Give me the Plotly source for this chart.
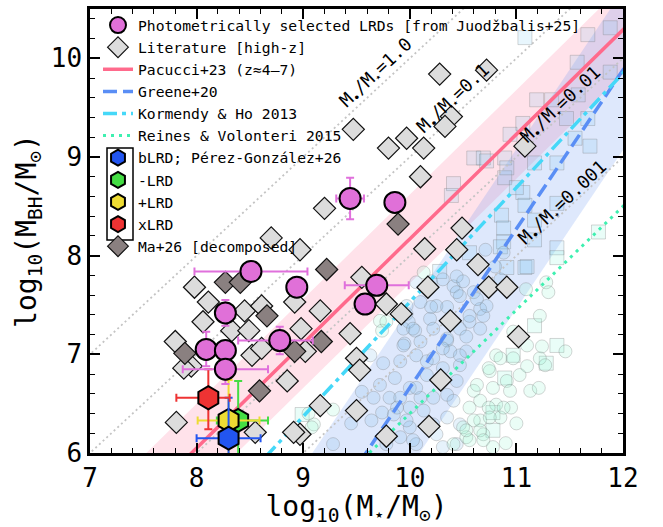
import numpy as np
import plotly.graph_objects as go

# ---------------- data ----------------
# Photometrically selected LRDs (Juodzbalis+25)
lrd_x = [9.44, 9.86, 8.51, 8.94, 8.27, 8.78, 8.09, 8.27, 8.27, 9.69, 9.58]
lrd_y = [8.58, 8.54, 7.84, 7.68, 7.42, 7.14, 7.05, 7.04, 6.85, 7.70, 7.51]
lrd_xerr_lo = [0.13, 0.0, 0.53, 0.0, 0.0, 0.39, 0.0, 0.0, 0.40, 0.30, 0.0]
lrd_xerr_hi = [0.13, 0.0, 0.53, 0.0, 0.0, 0.31, 0.0, 0.0, 0.40, 0.30, 0.0]
lrd_yerr_lo = [0.21, 0.0, 0.0, 0.0, 0.13, 0.14, 0.17, 0.0, 0.15, 0.0, 0.0]
lrd_yerr_hi = [0.21, 0.0, 0.0, 0.0, 0.13, 0.14, 0.18, 0.0, 0.15, 0.0, 0.0]

# Literature [high-z]
lit_x = [10.28, 10.72, 9.47, 9.97, 9.80, 10.13, 10.39, 10.33, 11.08, 10.10,
         9.20, 10.49, 8.97, 8.70, 10.14, 10.44, 10.64, 9.55, 10.17, 9.78,
         9.92, 10.74, 10.91, 10.38, 9.16, 9.44, 11.02, 10.29, 10.18, 9.78,
         9.50, 9.53, 9.16, 9.50, 8.97, 7.98, 8.11, 8.45, 8.61, 8.06,
         8.33, 8.49, 7.80, 7.95, 7.88, 8.52, 8.61, 8.92, 8.98, 9.02,
         8.85, 7.81, 8.55, 8.91]
lit_y = [9.84, 9.88, 9.28, 9.19, 9.09, 9.09, 9.41, 9.31, 9.11, 8.80,
         8.48, 8.28, 8.06, 8.18, 8.07, 8.06, 7.91, 7.78, 7.68, 7.51,
         7.41, 7.68, 7.68, 7.34, 7.44, 7.21, 7.18, 6.74, 6.27, 6.17,
         6.96, 6.84, 6.48, 6.43, 6.19, 7.68, 7.53, 7.44, 7.49, 7.33,
         7.24, 7.24, 7.13, 6.88, 6.86, 6.99, 7.06, 7.53, 7.26, 7.03,
         6.73, 6.31, 6.21, 6.21]

# Ma+26 [decomposed]
ma_x = [9.22, 8.27, 8.41, 8.66, 7.89, 8.92, 9.17, 8.59, 9.89]
ma_y = [7.86, 7.73, 7.73, 7.39, 7.01, 7.03, 7.13, 6.63, 8.32]

# Perez-Gonzalez+26 LRD classes
blrd_x, blrd_y = [8.30], [6.15]
blrd_ex, blrd_eyhi, blrd_eylo = [0.30], [0.41], [0.60]
mlrd_x, mlrd_y = [8.39], [6.33]
mlrd_exlo, mlrd_exhi, mlrd_eyhi, mlrd_eylo = [0.20], [0.28], [0.40], [0.60]
plrd_x, plrd_y = [8.30], [6.33]
plrd_ex, plrd_eyhi, plrd_eylo = [0.29], [0.41], [0.60]
xlrd_x, xlrd_y = [8.11], [6.56]
xlrd_exlo, xlrd_exhi, xlrd_eyhi, xlrd_eylo = [0.30], [0.20], [0.29], [0.32]

# local samples (faint background)
greene_pts_x = [9.94, 10.05, 9.95, 10.10, 10.25, 10.35, 10.19, 9.75, 9.86, 9.72,
                9.81, 9.91, 9.64, 9.74, 9.85, 10.00, 10.00, 10.10, 10.22, 10.35,
                10.44, 10.47, 10.53, 10.38, 10.35, 10.47, 10.56, 10.16, 10.22, 10.00,
                9.91, 9.78, 9.28, 10.06, 10.31, 10.44, 10.47, 9.63, 9.66, 10.06,
                10.20, 10.31, 10.41, 10.47, 10.60, 10.71, 10.80, 10.85, 10.66, 9.99,
                9.97, 10.44, 10.44, 10.10, 10.20, 9.97, 10.03, 9.94, 10.22, 10.35,
                10.53, 10.66, 10.69, 10.56, 10.72, 10.63, 10.50, 10.31, 10.47, 10.22,
                10.06, 9.91, 10.16, 10.31, 10.06, 10.41, 10.13, 10.35, 9.97, 9.88,
                10.25, 10.03, 10.88, 9.55, 9.45]
greene_pts_y = [7.26, 7.24, 7.11, 7.13, 7.49, 7.48, 7.36, 6.91, 6.76, 6.69,
                6.56, 6.56, 6.33, 6.41, 6.39, 6.66, 6.46, 6.56, 6.56, 6.59,
                6.73, 6.89, 7.03, 7.03, 7.16, 7.26, 7.33, 6.93, 6.29, 6.26,
                6.16, 6.09, 6.09, 6.09, 6.06, 6.09, 6.29, 6.99, 6.56, 7.73,
                7.74, 7.76, 7.69, 7.59, 7.63, 8.06, 7.89, 7.76, 7.46, 7.33,
                7.49, 7.79, 7.63, 7.53, 7.48, 7.41, 7.26, 7.09, 7.26, 7.14,
                7.18, 7.26, 7.39, 7.39, 7.49, 7.56, 7.74, 7.06, 6.99, 6.96,
                6.99, 6.93, 6.79, 6.86, 6.66, 6.53, 6.43, 6.36, 6.33, 6.46,
                6.19, 6.13, 8.03, 6.62, 6.30]
rv_pts_x = [9.72, 9.74, 9.78, 10.13, 9.10, 9.05, 9.08, 9.28, 10.53, 10.56,
            10.60, 10.81, 10.97, 11.10, 11.22, 11.03, 10.75, 10.91, 11.13, 11.21,
            10.94, 10.78, 10.66, 10.81, 10.95, 10.85, 10.66, 10.50, 10.69, 10.56,
            10.41, 10.78, 10.97, 11.10, 11.22, 11.24, 11.46, 11.27, 10.85, 10.74,
            10.63, 10.88, 10.74, 10.60, 10.75, 10.66, 10.53, 10.69, 11.09, 11.28,
            11.30, 10.90, 11.00]
rv_pts_y = [7.34, 7.24, 7.33, 7.83, 6.29, 6.40, 6.26, 6.44, 6.16, 6.46,
            6.63, 6.99, 6.96, 6.88, 6.96, 6.79, 6.83, 6.73, 6.63, 6.66,
            6.63, 6.66, 6.53, 6.49, 6.46, 6.36, 6.33, 6.26, 6.19, 6.13,
            6.09, 6.06, 7.23, 7.09, 7.39, 7.08, 7.03, 6.89, 6.96, 6.86,
            6.69, 6.46, 6.46, 6.33, 6.36, 6.23, 6.23, 6.13, 7.66, 7.73,
            7.63, 6.10, 6.30]
kh_sq_x = [11.08, 11.67, 11.88, 11.57, 11.88, 11.19, 11.33, 11.58, 11.47, 11.67,
           11.06, 10.94, 11.55, 11.69, 10.89, 10.60, 10.69, 11.17, 11.38, 10.89,
           11.06, 11.38, 11.08, 10.86, 11.17, 10.88, 11.17, 10.88, 11.38, 11.08,
           10.91, 10.41, 10.39, 10.28, 10.56, 10.72, 10.91, 11.00, 10.85, 11.10]
kh_sq_y = [10.21, 10.24, 10.31, 9.96, 9.86, 9.58, 9.58, 9.63, 9.39, 9.39,
           9.34, 9.23, 9.19, 9.11, 8.99, 8.99, 8.99, 8.94, 8.94, 8.79,
           8.64, 8.53, 8.51, 8.41, 8.36, 8.28, 8.16, 8.14, 8.08, 7.88,
           7.88, 8.73, 8.61, 7.84, 8.03, 8.96, 8.89, 8.69, 8.09, 7.89]
rv_sq_x = [11.77, 11.38, 11.17, 11.38, 11.28, 10.97, 10.89, 10.78, 10.78, 8.99]
rv_sq_y = [8.24, 7.98, 7.29, 7.09, 6.91, 6.99, 6.76, 6.41, 6.23, 6.39]

# scaling relations: (intercept, slope, pivot, scatter)
pacucci = (-2.43, 1.06, 0.0, 0.45)
greene = (7.43, 1.61, 10.477, 0.81)
kormendy = (8.69, 1.16, 11.0)
reines = (7.45, 1.05, 11.0)
ratios = [1.0, 0.1, 0.01, 0.001]
ratio_labels = ["1.0", "0.1", "0.01", "0.001"]
ratio_lab_x = [9.69, 10.41, 11.42, 11.44]
ratio_lab_y = [9.85, 9.59, 9.53, 8.53]

# ---------------- figure ----------------
FONT = "DejaVu Sans Mono"
xs = np.linspace(6.5, 12.5, 200)

def rel(p, x):
    return p[0] + p[1] * (np.asarray(x) - p[2])

fig = go.Figure()

# bands
for p, col in [(pacucci, "rgba(255,110,150,0.2)"), (greene, "rgba(90,140,240,0.2)")]:
    up = rel(p, xs) + p[3]
    lo = rel(p, xs) - p[3]
    fig.add_trace(go.Scatter(x=np.r_[xs, xs[::-1]], y=np.r_[up, lo[::-1]], fill="toself",
                             fillcolor=col, line=dict(width=0), mode="lines",
                             showlegend=False, hoverinfo="skip"))

# faint local samples
edge = dict(color="rgba(120,120,120,0.3)", width=1)
fig.add_trace(go.Scatter(x=kh_sq_x, y=kh_sq_y, mode="markers", showlegend=False,
                         marker=dict(symbol="square", size=14, color="rgba(110,200,245,0.16)", line=edge)))
fig.add_trace(go.Scatter(x=rv_sq_x, y=rv_sq_y, mode="markers", showlegend=False,
                         marker=dict(symbol="square", size=14, color="rgba(120,240,210,0.16)", line=edge)))
fig.add_trace(go.Scatter(x=greene_pts_x, y=greene_pts_y, mode="markers", showlegend=False,
                         marker=dict(symbol="circle", size=13, color="rgba(130,190,235,0.2)", line=edge)))
fig.add_trace(go.Scatter(x=rv_pts_x, y=rv_pts_y, mode="markers", showlegend=False,
                         marker=dict(symbol="circle", size=13, color="rgba(150,245,210,0.2)", line=edge)))

# constant ratio lines
for r in ratios:
    fig.add_trace(go.Scatter(x=xs, y=xs + np.log10(r), mode="lines", showlegend=False,
                             line=dict(color="#c4c4c4", width=1.8, dash="2px,3px"), hoverinfo="skip"))

# relations
fig.add_trace(go.Scatter(x=xs, y=rel(pacucci, xs), mode="lines", name="Pacucci+23 (z≈4–7)",
                         line=dict(color="#ff6a8c", width=3.5), legendrank=3))
fig.add_trace(go.Scatter(x=xs, y=rel(greene, xs), mode="lines", name="Greene+20",
                         line=dict(color="#5a8ef5", width=3.5, dash="14px,6px"), legendrank=4))
fig.add_trace(go.Scatter(x=xs, y=rel(kormendy, xs), mode="lines", name="Kormendy & Ho 2013",
                         line=dict(color="#45d8f8", width=3.5, dash="14px,5px,4px,5px"), legendrank=5))
fig.add_trace(go.Scatter(x=xs, y=rel(reines, xs), mode="lines", name="Reines & Volonteri 2015",
                         line=dict(color="#3ef0b0", width=3, dash="3px,5px"), legendrank=6))

# literature & Ma+26
fig.add_trace(go.Scatter(x=lit_x, y=lit_y, mode="markers", name="Literature [high-z]", legendrank=2,
                         marker=dict(symbol="diamond", size=17, color="#dcdcdc",
                                     line=dict(color="#111111", width=1.2))))
fig.add_trace(go.Scatter(x=ma_x, y=ma_y, mode="markers", name="Ma+26 [decomposed]", legendrank=11,
                         marker=dict(symbol="diamond", size=17, color="#8a8080",
                                     line=dict(color="#111111", width=1.2))))

# Perez-Gonzalez hexagons
def hexa(x, y, exlo, exhi, eylo, eyhi, col, name, rank):
    fig.add_trace(go.Scatter(
        x=x, y=y, mode="markers", name=name, legendrank=rank,
        error_x=dict(type="data", symmetric=False, array=exhi, arrayminus=exlo,
                     color=col, thickness=2, width=4),
        error_y=dict(type="data", symmetric=False, array=eyhi, arrayminus=eylo,
                     color=col, thickness=2, width=4),
        marker=dict(symbol="hexagon", size=23, color=col, line=dict(color="black", width=2))))

hexa(mlrd_x, mlrd_y, mlrd_exlo, mlrd_exhi, mlrd_eylo, mlrd_eyhi, "#44dd44", "-LRD", 8)
hexa(plrd_x, plrd_y, plrd_ex, plrd_ex, plrd_eylo, plrd_eyhi, "#eedc33", "+LRD", 9)
hexa(blrd_x, blrd_y, blrd_ex, blrd_ex, blrd_eylo, blrd_eyhi, "#2255f0", "bLRD; Pérez-González+26", 7)
hexa(xlrd_x, xlrd_y, xlrd_exlo, xlrd_exhi, xlrd_eylo, xlrd_eyhi, "#ee3333", "xLRD", 10)

# LRD circles
fig.add_trace(go.Scatter(
    x=lrd_x, y=lrd_y, mode="markers", name="Photometrically selected LRDs [from Juodžbalis+25]",
    legendrank=1,
    error_x=dict(type="data", symmetric=False, array=lrd_xerr_hi, arrayminus=lrd_xerr_lo,
                 color="#e070dc", thickness=2, width=4),
    error_y=dict(type="data", symmetric=False, array=lrd_yerr_hi, arrayminus=lrd_yerr_lo,
                 color="#e070dc", thickness=2, width=4),
    marker=dict(symbol="circle", size=21, color="#e070d8", line=dict(color="black", width=2))))

# ratio labels
for lab, lx, ly in zip(ratio_labels, ratio_lab_x, ratio_lab_y):
    fig.add_annotation(x=lx, y=ly, text="M<sub>•</sub>/M<sub>⋆</sub>=" + lab, showarrow=False,
                       textangle=-43.2, font=dict(family=FONT, size=18, color="black"))

# box around Perez-Gonzalez legend symbols (pixel -> paper)
L, T, W, H = 90, 6, 533, 450
bx0, bx1, by0, by1 = 107, 133, 147, 240
fig.add_shape(type="rect", xref="paper", yref="paper",
              x0=(bx0 - L) / W, x1=(bx1 - L) / W, y0=1 - (by1 - T) / H, y1=1 - (by0 - T) / H,
              line=dict(color="black", width=1.5))

axis_common = dict(showline=True, linecolor="black", linewidth=2.5, mirror="ticks",
                   ticks="inside", ticklen=10, tickwidth=1.5, tickcolor="black",
                   showgrid=False, zeroline=False,
                   tickfont=dict(family=FONT, size=26, color="black"),
                   minor=dict(ticks="inside", ticklen=5, tickwidth=1.2, tickcolor="black", dtick=0.2))

fig.update_xaxes(range=[7, 12], dtick=1, tick0=7,
                 title=dict(text="log<sub>10</sub>(M<sub>⋆</sub>/M<sub>⊙</sub>)",
                            font=dict(family=FONT, size=28, color="black"), standoff=8),
                 **axis_common)
fig.update_yaxes(range=[6, 10.5], dtick=1, tick0=6,
                 title=dict(text="log<sub>10</sub>(M<sub>BH</sub>/M<sub>⊙</sub>)",
                            font=dict(family=FONT, size=28, color="black"), standoff=6),
                 **axis_common)

fig.update_layout(
    width=663, height=527,
    margin=dict(l=L, r=663 - L - W, t=T, b=527 - T - H),
    paper_bgcolor="white", plot_bgcolor="white",
    font=dict(family=FONT, color="black"),
    legend=dict(x=8 / W, y=1.0, xanchor="left", yanchor="top", bgcolor="rgba(0,0,0,0)",
                font=dict(family=FONT, size=14.7, color="black"), tracegroupgap=0,
                borderwidth=0),
)

fig.write_html("out.html")
